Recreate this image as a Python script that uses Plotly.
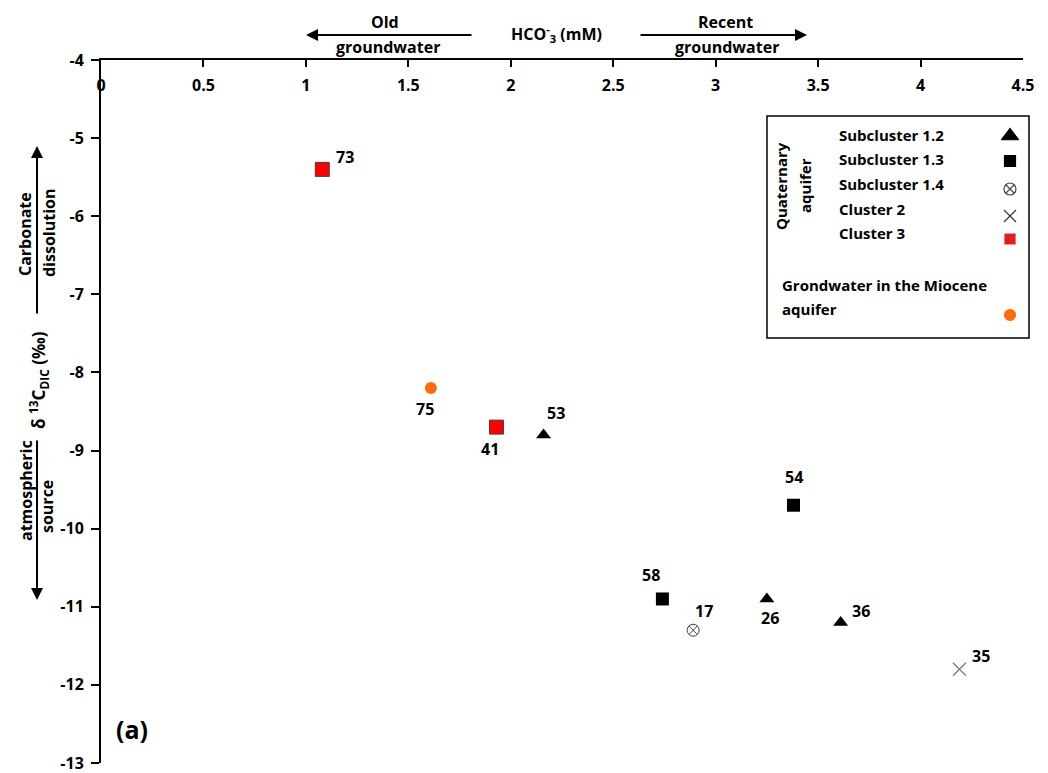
import plotly.graph_objects as go

# HCO3- (mM) and d13C-DIC (permil) for each sampled well, grouped by cluster
sub12_ids = ["53", "26", "36"]
sub12_hco3 = [2.16, 3.25, 3.61]
sub12_d13c = [-8.8, -10.9, -11.2]

sub13_ids = ["54", "58"]
sub13_hco3 = [3.38, 2.74]
sub13_d13c = [-9.7, -10.9]

sub14_ids = ["17"]
sub14_hco3 = [2.89]
sub14_d13c = [-11.3]

cl2_ids = ["35"]
cl2_hco3 = [4.19]
cl2_d13c = [-11.8]

cl3_ids = ["73", "41"]
cl3_hco3 = [1.08, 1.93]
cl3_d13c = [-5.4, -8.7]

mio_ids = ["75"]
mio_hco3 = [1.61]
mio_d13c = [-8.2]

x_tick_vals = [0, 0.5, 1, 1.5, 2, 2.5, 3, 3.5, 4, 4.5]
x_tick_text = ["0", "0.5", "1", "1.5", "2", "2.5", "3", "3.5", "4", "4.5"]
y_tick_vals = [-4, -5, -6, -7, -8, -9, -10, -11, -12, -13]
y_tick_text = ["-4", "-5", "-6", "-7", "-8", "-9", "-10", "-11", "-12", "-13"]

legend_labels = ["Subcluster 1.2", "Subcluster 1.3", "Subcluster 1.4", "Cluster 2", "Cluster 3"]

# label offsets (px) of the sample numbers relative to their markers
label_shift = {
    "73": (23, 12), "75": (-6, -21), "41": (-6, -22), "53": (12, 22),
    "54": (0, 28), "58": (-11, 24), "17": (11, 19), "26": (3, -19),
    "36": (20, 11), "35": (22, 13),
}

W, H = 1048, 773
L, R, T, B = 101, 1023, 60, 763
FONT = "Open Sans"


def px(x):
    return (x - L) / (R - L)


def py(y):
    return (B - y) / (B - T)


def note(x, y, text, size=16, angle=0, anchor="center"):
    return dict(x=px(x), y=py(y), xref="paper", yref="paper", text=f"<b>{text}</b>",
                showarrow=False, xanchor=anchor, yanchor="middle", textangle=angle,
                font=dict(family=FONT, size=size, color="black"))


def arrow(x, y, ax, ay):
    return dict(x=px(x), y=py(y), xref="paper", yref="paper", ax=ax, ay=ay, text="",
                showarrow=True, arrowhead=2, arrowsize=1.2, arrowwidth=2, arrowcolor="black")


fig = go.Figure()

series = [
    (sub12_ids, sub12_hco3, sub12_d13c, dict(symbol="triangle-up", size=13, color="black")),
    (sub13_ids, sub13_hco3, sub13_d13c, dict(symbol="square", size=13, color="black")),
    (sub14_ids, sub14_hco3, sub14_d13c,
     dict(symbol="circle-x-open", size=12, color="#444444", line=dict(width=1, color="#444444"))),
    (cl2_ids, cl2_hco3, cl2_d13c,
     dict(symbol="x-thin-open", size=13, color="#777777", line=dict(width=1.2, color="#777777"))),
    (cl3_ids, cl3_hco3, cl3_d13c,
     dict(symbol="square", size=14, color="#FF0000", line=dict(width=1, color="#404040"))),
    (mio_ids, mio_hco3, mio_d13c, dict(symbol="circle", size=12, color="#FF6A0E")),
]

annotations = []
for ids, xs, ys, marker in series:
    fig.add_trace(go.Scatter(x=xs, y=ys, mode="markers", marker=marker,
                             showlegend=False, hoverinfo="skip"))
    for i, xv, yv in zip(ids, xs, ys):
        dx, dy = label_shift[i]
        annotations.append(dict(x=xv, y=yv, xref="x", yref="y", text=f"<b>{i}</b>",
                                showarrow=False, xshift=dx, yshift=dy,
                                xanchor="center", yanchor="middle",
                                font=dict(family=FONT, size=16, color="black")))

# custom legend: samples drawn on a pixel-scaled overlay axis
leg_x = [1010, 1010, 1010, 1010, 1010, 1010]
leg_y = [136, 161, 189, 216, 239, 315]
leg_sym = ["triangle-up", "square", "circle-x-open", "x-thin-open", "square", "circle"]
leg_size = [15, 11, 12, 12, 10, 11]
leg_col = ["black", "black", "#444444", "#333333", "#E02020", "#FF6A0E"]
for xx, yy, s, sz, c in zip(leg_x, leg_y, leg_sym, leg_size, leg_col):
    fig.add_trace(go.Scatter(x=[xx], y=[yy], xaxis="x2", yaxis="y2", mode="markers",
                             marker=dict(symbol=s, size=sz, color=c,
                                         line=dict(width=1.2, color=c)),
                             showlegend=False, hoverinfo="skip"))

leg_text_y = [135, 159, 184, 209, 233]
for t, yy in zip(legend_labels, leg_text_y):
    annotations.append(note(837, yy, t, size=15, anchor="left"))
annotations += [
    note(781, 186, "Quaternary", size=15, angle=-90),
    note(805, 186, "aquifer", size=15, angle=-90),
    note(780, 285, "Grondwater in the Miocene", size=15, anchor="left"),
    note(780, 309, "aquifer", size=15, anchor="left"),
]

# top axis caption and direction arrows
annotations += [
    note(556, 33, "HCO<sup>-</sup><sub>3</sub> (mM)", size=16),
    note(385, 22, "Old", size=16),
    note(388, 47, "groundwater", size=16),
    note(725, 22, "Recent", size=16),
    note(727, 47, "groundwater", size=16),
    arrow(306, 35, 167, 0),
    arrow(807, 35, -168, 0),
]

# left axis caption and direction arrows
annotations += [
    note(38, 380, "\u03b4 <sup>13</sup>C<sub>DIC</sub> (\u2030)", size=17, angle=-90),
    note(25, 234, "Carbonate", size=16, angle=-90),
    note(49, 233, "dissolution", size=16, angle=-90),
    note(26, 491, "atmospheric", size=16, angle=-90),
    note(47, 507, "source", size=16, angle=-90),
    arrow(37, 146, 0, 169),
    arrow(37, 600, 0, -161),
    note(132, 729, "(a)", size=25),
]

fig.update_layout(
    width=W, height=H,
    margin=dict(l=L, r=W - R, t=T, b=H - B, autoexpand=False),
    paper_bgcolor="white", plot_bgcolor="white",
    showlegend=False,
    font=dict(family=FONT, size=16, color="black"),
    annotations=annotations,
    shapes=[dict(type="rect", xref="paper", yref="paper", x0=px(767), x1=px(1029),
                 y0=py(116), y1=py(338), line=dict(color="black", width=1.5))],
    xaxis=dict(range=[0, 4.5], side="top", tickvals=x_tick_vals, ticktext=x_tick_text,
               ticks="inside", ticklen=7, tickwidth=2, tickcolor="black",
               ticklabelposition="inside", ticklabeloverflow="allow", ticklabelstandoff=13,
               showline=True, linewidth=2, linecolor="black", automargin=False,
               showgrid=False, zeroline=False,
               tickfont=dict(family=FONT, size=16, color="black", weight="bold")),
    yaxis=dict(range=[-13, -4], tickvals=y_tick_vals, ticktext=y_tick_text,
               ticks="outside", ticklen=8, tickwidth=2, tickcolor="black",
               ticklabeloverflow="allow", automargin=False, ticklabelstandoff=4,
               showline=True, linewidth=2, linecolor="black", showgrid=False, zeroline=False,
               tickfont=dict(family=FONT, size=16, color="black", weight="bold")),
    xaxis2=dict(range=[L, R], overlaying="x", visible=False, fixedrange=True),
    yaxis2=dict(range=[B, T], overlaying="y", visible=False, fixedrange=True),
)

fig.write_html("out.html")
